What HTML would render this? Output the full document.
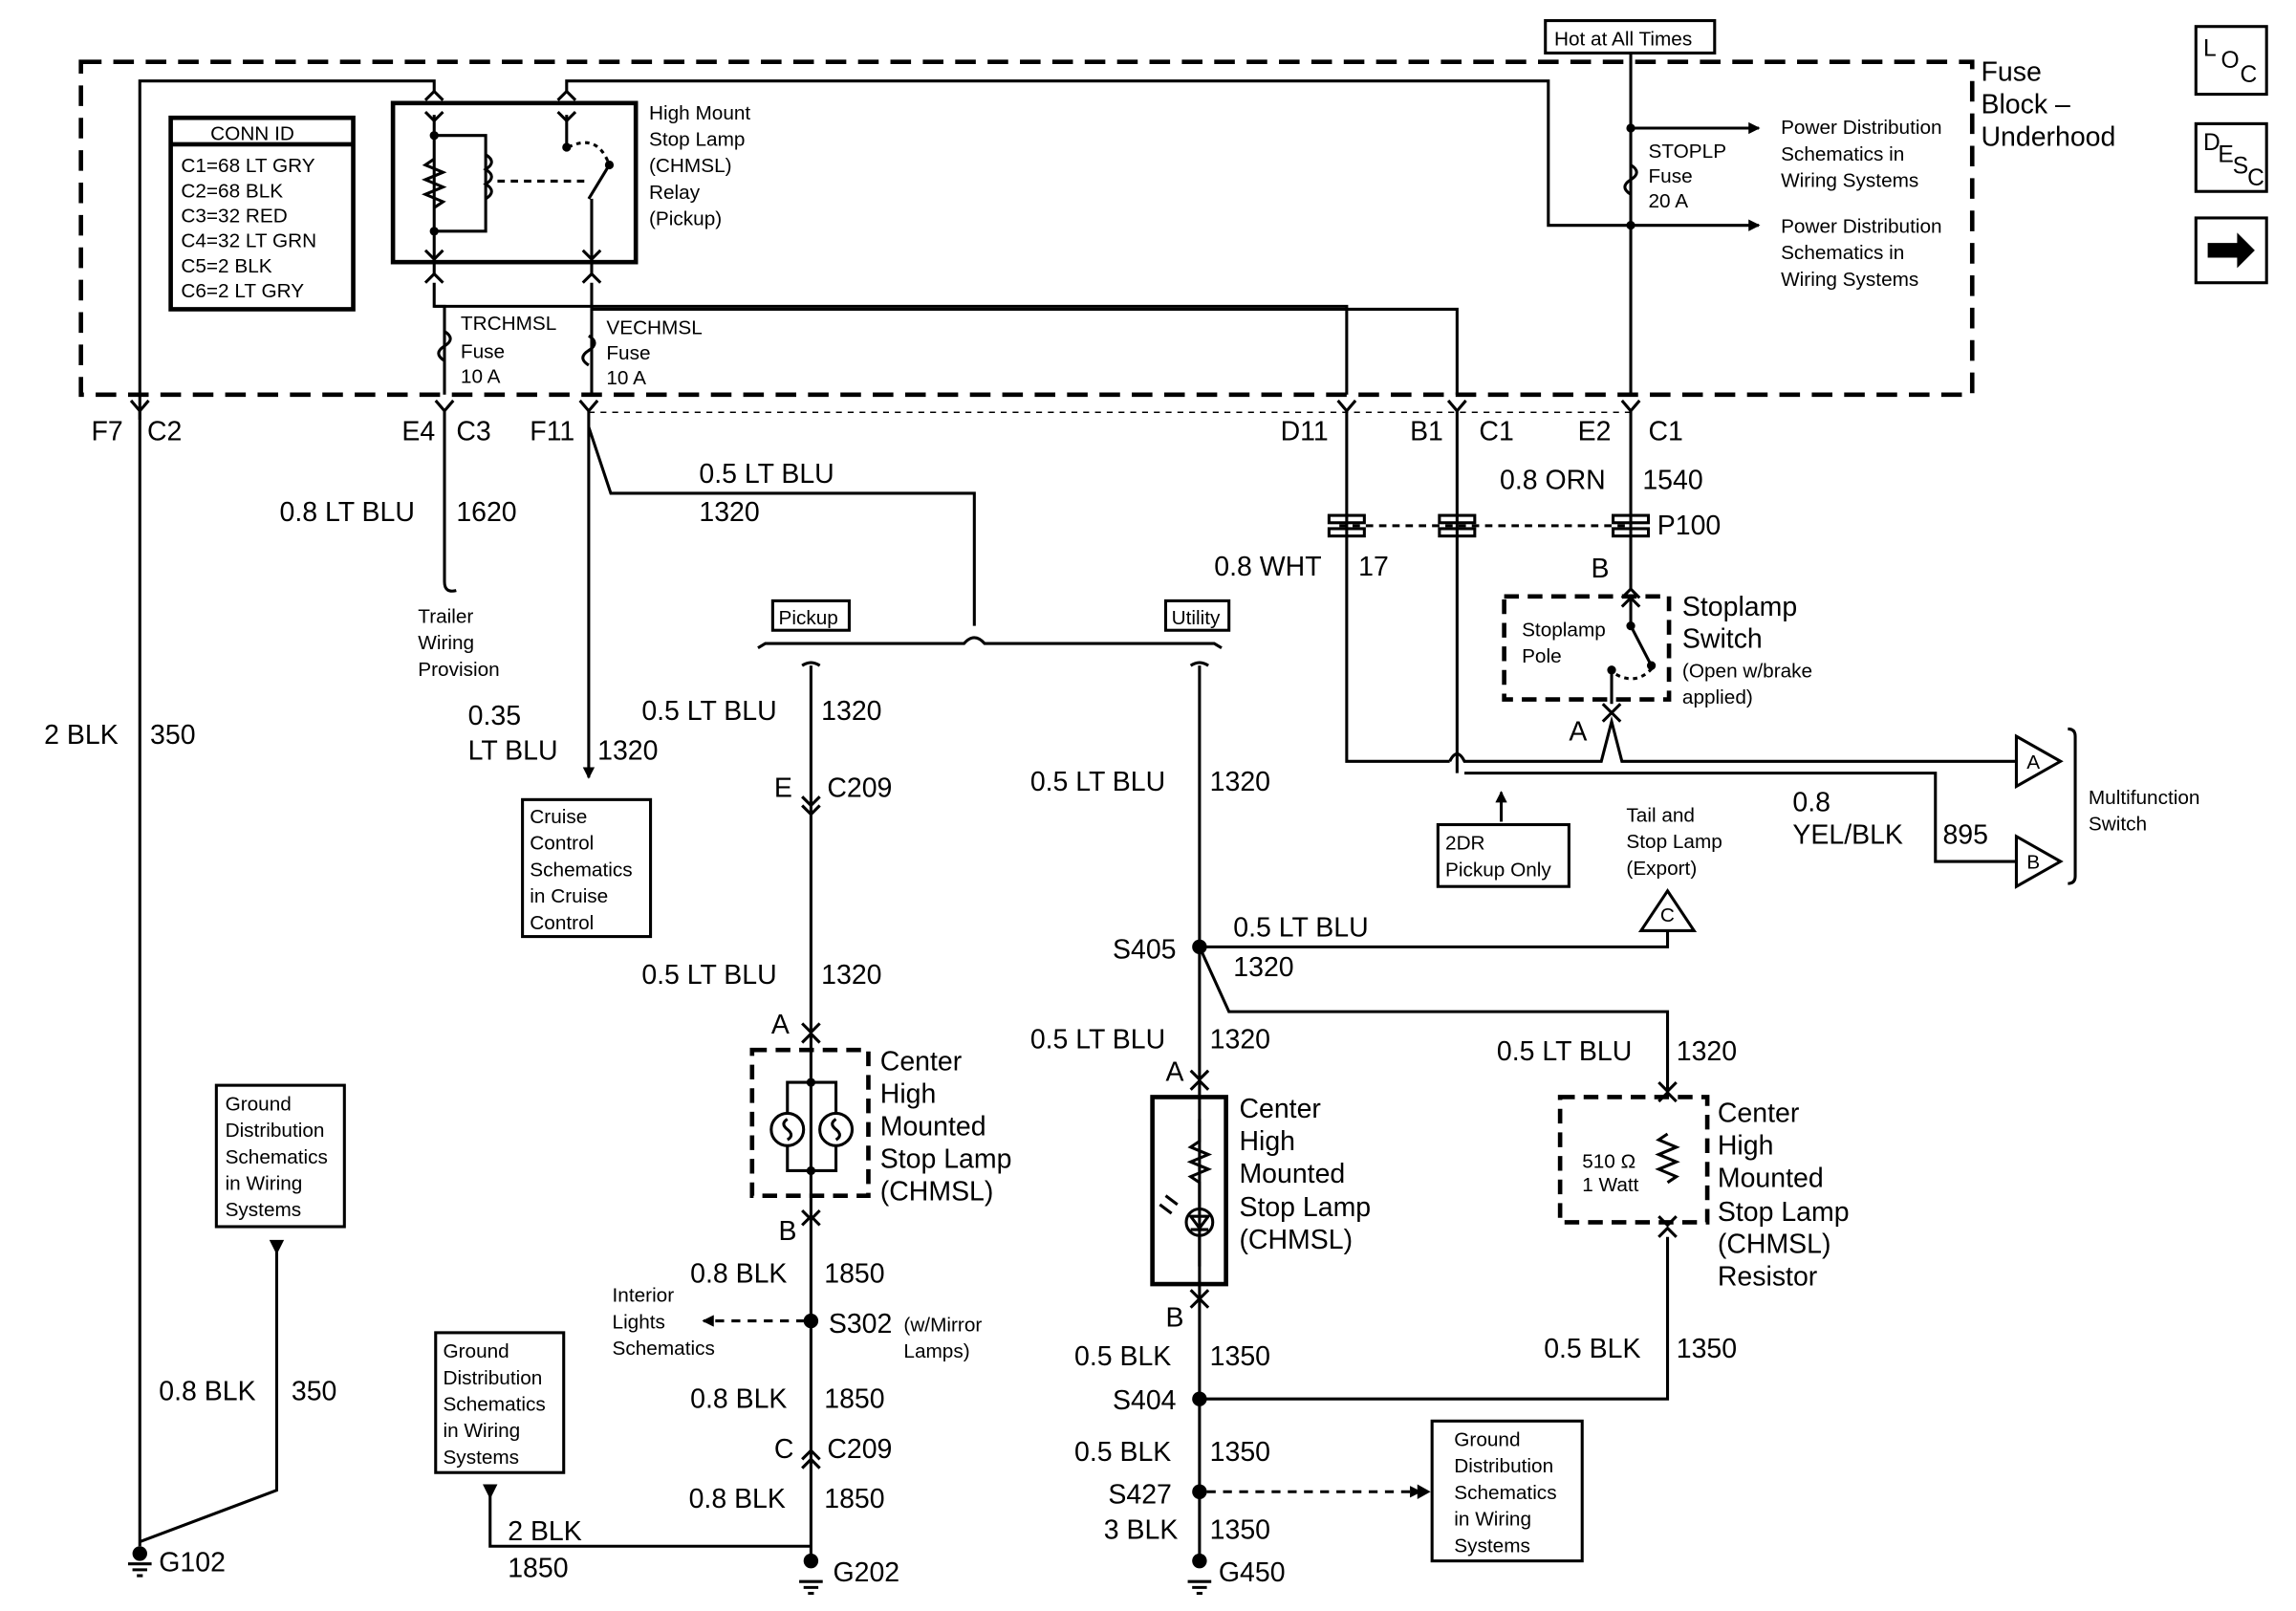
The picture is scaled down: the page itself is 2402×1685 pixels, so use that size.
<!DOCTYPE html>
<html><head><meta charset="utf-8"><style>
html,body{margin:0;padding:0;background:#fff;}
svg{display:block;}
text{font-family:"Liberation Sans",Arial,sans-serif;fill:#000;}
.L{font-size:18.5px;}
.S{font-size:13.5px;}
.M{font-size:16px;}
</style></head><body>
<svg width="2402" height="1685" viewBox="0 0 1560 1094" preserveAspectRatio="none" xmlns="http://www.w3.org/2000/svg">
<defs>
<marker id="ar" markerWidth="8" markerHeight="8" refX="7" refY="4" orient="auto" markerUnits="userSpaceOnUse"><path d="M0,0 L8,4 L0,8z"/></marker>
</defs>
<g fill="none" stroke="#000" stroke-width="2">
<rect x="55" y="42" width="1285" height="226" stroke-width="3" stroke-dasharray="14,8"/>
<rect x="1050" y="14" width="115" height="22"/>
<rect x="1492" y="18" width="48" height="46"/>
<rect x="1492" y="84" width="48" height="46"/>
<rect x="1492" y="148" width="48" height="44"/>
<rect x="116" y="80" width="124" height="130" stroke-width="3"/>
<line x1="116" y1="98" x2="240" y2="98" stroke-width="3"/>
<rect x="267" y="70" width="165" height="108" stroke-width="3"/>
<polyline points="95,285 95,55 295,55 295,62"/>
<polyline points="385,62 385,55 1052,55 1052,153 1195,153" marker-end="url(#ar)"/>
<polyline points="1108,36 1108,268"/>
<polyline points="1108,87 1195,87" marker-end="url(#ar)"/>
<path d="M1108,112 q8,5 0,10 q-8,5 0,10"/>
<!-- relay internals -->
<polyline points="295,78 295,186"/>
<path d="M295,108 l-6,4 l12,5 l-12,5 l12,5 l-12,5 l12,5 l-6,4"/>
<polyline points="295,92 330,92 330,157 295,157"/>
<path d="M330,105 q8,5 0,10 q8,5 0,10 q8,5 0,10"/>
<line x1="338" y1="123" x2="398" y2="123" stroke-dasharray="5,4"/>
<polyline points="385,78 385,100"/>
<line x1="400" y1="135" x2="414" y2="112"/>
<path d="M386,100 q20,-10 28,12" stroke-dasharray="3,3"/>
<polyline points="402,135 402,186"/>
<!-- chevrons relay -->
<path d="M289,68 L295,62 L301,68 M379,68 L385,62 L391,68"/>
<path d="M289,76 L295,82 L301,76 M379,76 L385,82 L391,76"/>
<path d="M289,170 L295,176 L301,170 M396,170 L402,176 L408,170"/>
<path d="M289,192 L295,186 L301,192 M396,192 L402,186 L408,192"/>
<polyline points="295,192 295,208 915,208 915,268"/>
<polyline points="402,192 402,268"/>
<polyline points="295,208 302,208 302,268"/>
<polyline points="402,210 990,210 990,268"/>
<path d="M302,225 q8,5 0,10 q-8,5 0,10"/>
<path d="M400,228 q8,5 0,10 q-8,5 0,10"/>
<!-- bottom pin chevrons -->
<path d="M89,272 L95,279 L101,272 M296,272 L302,279 L308,272 M394,272 L400,279 L406,272 M909,272 L915,279 L921,272 M984,272 L990,279 L996,272 M1102,272 L1108,279 L1114,272"/>
<line x1="400" y1="280" x2="1108" y2="280" stroke-dasharray="4,4" stroke-width="1"/>
<line x1="95" y1="279" x2="95" y2="1050"/>
<path d="M302,279 L302,395 q0,8 8,6"/>
<line x1="400" y1="279" x2="400" y2="528" marker-end="url(#ar)"/>
<polyline points="400,290 415,335 662,335 662,425"/>
<path d="M515,440 l5,-3 L655,437 q7,-8 14,0 L825,437 l5,3"/>
<path d="M545,452 q6,-4 12,0 M809,452 q6,-4 12,0"/>
<line x1="551" y1="452" x2="551" y2="1060"/>
<line x1="815" y1="452" x2="815" y2="1060"/>
<!-- C209 chevrons -->
<path d="M545,541 L551,547 L557,541 M545,547 L551,553 L557,547"/>
<path d="M545,991 L551,985 L557,991 M545,997 L551,991 L557,997"/>
<path d="M545,695 L551,701 L557,695 M545,708 L551,702 L557,708"/>
<path d="M545,822 L551,828 L557,822 M545,832 L551,826 L557,832"/>
<path d="M809,727 L815,733 L821,727 M809,740 L815,734 L821,740"/>
<path d="M809,876 L815,882 L821,876 M809,888 L815,882 L821,888"/>
<path d="M1127,735 L1133,741 L1139,735 M1127,748 L1133,742 L1139,748"/>
<path d="M1127,826 L1133,832 L1139,826 M1127,840 L1133,834 L1139,840"/>
<!-- right side -->
<polyline points="915,279 915,517 985,517"/>
<path d="M985,517 q5,-10 10,0 L1088,517 L1095,490 L1102,517 L1370,517"/>
<polyline points="990,279 990,525"/>
<polyline points="1108,279 1108,400"/>
<path d="M1102,406 L1108,400 L1114,406 M1102,412 L1108,406 L1114,412 M1089,478 L1095,484 L1101,478 M1089,490 L1095,484 L1101,490"/>
<polyline points="995,525 1315,525 1315,585 1370,585"/>
<line x1="910" y1="357" x2="1105" y2="357" stroke-dasharray="5,4"/>
<rect x="903" y="350" width="24" height="5"/><rect x="903" y="359" width="24" height="5"/>
<rect x="978" y="350" width="24" height="5"/><rect x="978" y="359" width="24" height="5"/>
<rect x="1096" y="350" width="24" height="5"/><rect x="1096" y="359" width="24" height="5"/>
<rect x="1022" y="405" width="112" height="70" stroke-width="3" stroke-dasharray="10,6"/>
<line x1="1108" y1="406" x2="1108" y2="425"/>
<line x1="1108" y1="425" x2="1122" y2="452"/>
<line x1="1095" y1="455" x2="1095" y2="478"/>
<path d="M1098,458 q15,8 26,-6" stroke-dasharray="3,3"/>
<polygon points="1370,500 1400,517 1370,534"/>
<polygon points="1370,568 1400,585 1370,602"/>
<path d="M1405,495 q5,0 5,5 L1410,595 q0,5 -5,5"/>
<rect x="977" y="560" width="89" height="42"/>
<line x1="1020" y1="558" x2="1020" y2="538" marker-end="url(#ar)"/>
<rect x="355" y="543" width="87" height="93"/>
<rect x="525" y="408" width="52" height="20"/>
<rect x="792" y="408" width="43" height="20"/>
<polyline points="815,643 1133,643 1133,632"/>
<polygon points="1133,605 1115,632 1151,632"/>
<polyline points="815,643 835,687 1133,687 1133,745"/>
<rect x="1060" y="745" width="100" height="85" stroke-width="3" stroke-dasharray="10,6"/>
<path d="M1133,770 l-6,4 l12,5 l-12,5 l12,5 l-12,5 l12,5 l-6,4"/>
<polyline points="1133,840 1133,950 815,950"/>
<rect x="511" y="713" width="79" height="99" stroke-width="3" stroke-dasharray="10,6"/>
<polyline points="535,756 535,735 568,735 568,756"/>
<polyline points="535,778 535,795 568,795 568,778"/>
<circle cx="535" cy="767" r="11"/><circle cx="568" cy="767" r="11"/>
<path d="M535,760 q-5,3 0,7 q5,4 0,7 M568,760 q-5,3 0,7 q5,4 0,7"/>
<rect x="783" y="745" width="50" height="127" stroke-width="3"/>
<path d="M815,760 L815,775 l-6,4 l12,5 l-12,5 l12,5 l-12,5 l6,4 L815,820 M815,840 L815,860"/>
<circle cx="815" cy="830" r="9"/>
<path d="M809,826 h12 l-6,8z M809,835 h12"/>
<path d="M800,818 l-8,-6 M796,824 l-8,-6"/>
<line x1="547" y1="897" x2="478" y2="897" stroke-dasharray="6,5" marker-end="url(#ar)"/>
<line x1="820" y1="1013" x2="965" y2="1013" stroke-dasharray="6,5" marker-end="url(#ar)"/>
<rect x="973" y="965" width="102" height="95"/>
<rect x="147" y="737" width="87" height="96"/>
<rect x="296" y="905" width="87" height="95"/>
<polyline points="188,850 188,1012 95,1047"/>
<polyline points="333,1015 333,1050 551,1050"/>
<path d="M87,1062 h16 M90,1066 h10 M93,1070 h4"/>
<path d="M543,1074 h16 M546,1078 h10 M549,1082 h4"/>
<path d="M807,1074 h16 M810,1078 h10 M813,1082 h4"/>
</g>
<polygon points="1500,165 1520,165 1520,158 1532,170 1520,182 1520,175 1500,175"/>
<polygon points="183,842 193,842 188,852"/>
<polygon points="328,1008 338,1008 333,1018"/>
<polygon points="963,1008 963,1018 972,1013"/>
<circle cx="95" cy="1055" r="5"/><circle cx="551" cy="1060" r="5"/><circle cx="815" cy="1060" r="5"/>
<circle cx="815" cy="643" r="5"/><circle cx="815" cy="950" r="5"/><circle cx="815" cy="1013" r="5"/><circle cx="551" cy="897" r="5"/>
<circle cx="1108" cy="87" r="3"/><circle cx="1108" cy="153" r="3"/><circle cx="295" cy="92" r="3"/><circle cx="295" cy="157" r="3"/>
<circle cx="1108" cy="425" r="3"/><circle cx="1122" cy="452" r="3"/><circle cx="1095" cy="455" r="3"/>
<circle cx="385" cy="100" r="3"/><circle cx="414" cy="112" r="3"/>
<circle cx="551" cy="735" r="3"/><circle cx="551" cy="795" r="3"/>
<text x="1056" y="31" class="S">Hot at All Times</text>
<text x="1346" y="55" class="L">Fuse</text><text x="1346" y="77" class="L">Block –</text><text x="1346" y="99" class="L">Underhood</text>
<text x="1497" y="38" class="M">L</text><text x="1509" y="46" class="M">O</text><text x="1522" y="56" class="M">C</text>
<text x="1497" y="102" class="M">D</text><text x="1507" y="110" class="M">E</text><text x="1517" y="118" class="M">S</text><text x="1527" y="126" class="M">C</text>
<g class="S">
<text x="143" y="95">CONN ID</text>
<text x="123" y="117">C1=68 LT GRY</text><text x="123" y="134">C2=68 BLK</text><text x="123" y="151">C3=32 RED</text><text x="123" y="168">C4=32 LT GRN</text><text x="123" y="185">C5=2 BLK</text><text x="123" y="202">C6=2 LT GRY</text>
<text x="441" y="81">High Mount</text><text x="441" y="99">Stop Lamp</text><text x="441" y="117">(CHMSL)</text><text x="441" y="135">Relay</text><text x="441" y="153">(Pickup)</text>
<text x="1120" y="107">STOPLP</text><text x="1120" y="124">Fuse</text><text x="1120" y="141">20 A</text>
<text x="1210" y="91">Power Distribution</text><text x="1210" y="109">Schematics in</text><text x="1210" y="127">Wiring Systems</text>
<text x="1210" y="158">Power Distribution</text><text x="1210" y="176">Schematics in</text><text x="1210" y="194">Wiring Systems</text>
<text x="313" y="224">TRCHMSL</text><text x="313" y="243">Fuse</text><text x="313" y="260">10 A</text>
<text x="412" y="227">VECHMSL</text><text x="412" y="244">Fuse</text><text x="412" y="261">10 A</text>
<text x="284" y="423">Trailer</text><text x="284" y="441">Wiring</text><text x="284" y="459">Provision</text>
<text x="360" y="559">Cruise</text><text x="360" y="577">Control</text><text x="360" y="595">Schematics</text><text x="360" y="613">in Cruise</text><text x="360" y="631">Control</text>
<text x="529" y="424">Pickup</text><text x="796" y="424">Utility</text>
<text x="1034" y="432">Stoplamp</text><text x="1034" y="450">Pole</text>
<text x="1143" y="460">(Open w/brake</text><text x="1143" y="478">applied)</text>
<text x="1105" y="558">Tail and</text><text x="1105" y="576">Stop Lamp</text><text x="1105" y="594">(Export)</text>
<text x="1419" y="546">Multifunction</text><text x="1419" y="564">Switch</text>
<text x="982" y="577">2DR</text><text x="982" y="595">Pickup Only</text>
<text x="1377" y="522">A</text><text x="1377" y="590">B</text><text x="1128" y="626">C</text>
<text x="153" y="754">Ground</text><text x="153" y="772">Distribution</text><text x="153" y="790">Schematics</text><text x="153" y="808">in Wiring</text><text x="153" y="826">Systems</text>
<text x="301" y="922">Ground</text><text x="301" y="940">Distribution</text><text x="301" y="958">Schematics</text><text x="301" y="976">in Wiring</text><text x="301" y="994">Systems</text>
<text x="988" y="982">Ground</text><text x="988" y="1000">Distribution</text><text x="988" y="1018">Schematics</text><text x="988" y="1036">in Wiring</text><text x="988" y="1054">Systems</text>
<text x="416" y="884">Interior</text><text x="416" y="902">Lights</text><text x="416" y="920">Schematics</text>
<text x="614" y="904">(w/Mirror</text><text x="614" y="922">Lamps)</text>
<text x="1075" y="793">510 Ω</text><text x="1075" y="809">1 Watt</text>
</g>
<g class="L">
<text x="62" y="299">F7</text><text x="100" y="299">C2</text>
<text x="273" y="299">E4</text><text x="310" y="299">C3</text>
<text x="360" y="299">F11</text>
<text x="870" y="299">D11</text><text x="958" y="299">B1</text><text x="1005" y="299">C1</text>
<text x="1072" y="299">E2</text><text x="1120" y="299">C1</text>
<text x="1019" y="332">0.8 ORN</text><text x="1116" y="332">1540</text>
<text x="1126" y="363">P100</text><text x="1081" y="392">B</text>
<text x="825" y="391">0.8 WHT</text><text x="923" y="391">17</text>
<text x="1143" y="418">Stoplamp</text><text x="1143" y="440">Switch</text>
<text x="1066" y="503">A</text>
<text x="1218" y="551">0.8</text><text x="1218" y="573">YEL/BLK</text><text x="1320" y="573">895</text>
<text x="475" y="328">0.5 LT BLU</text><text x="475" y="354">1320</text>
<text x="190" y="354">0.8 LT BLU</text><text x="310" y="354">1620</text>
<text x="30" y="505">2 BLK</text><text x="102" y="505">350</text>
<text x="318" y="492">0.35</text><text x="318" y="516">LT BLU</text><text x="406" y="516">1320</text>
<text x="436" y="489">0.5 LT BLU</text><text x="558" y="489">1320</text>
<text x="526" y="541">E</text><text x="562" y="541">C209</text>
<text x="700" y="537">0.5 LT BLU</text><text x="822" y="537">1320</text>
<text x="436" y="668">0.5 LT BLU</text><text x="558" y="668">1320</text>
<text x="756" y="651">S405</text><text x="838" y="636">0.5 LT BLU</text><text x="838" y="663">1320</text>
<text x="524" y="702">A</text>
<text x="598" y="727">Center</text><text x="598" y="749">High</text><text x="598" y="771">Mounted</text><text x="598" y="793">Stop Lamp</text><text x="598" y="815">(CHMSL)</text>
<text x="700" y="712">0.5 LT BLU</text><text x="822" y="712">1320</text>
<text x="792" y="734">A</text>
<text x="842" y="759">Center</text><text x="842" y="781">High</text><text x="842" y="803">Mounted</text><text x="842" y="826">Stop Lamp</text><text x="842" y="848">(CHMSL)</text>
<text x="1017" y="720">0.5 LT BLU</text><text x="1139" y="720">1320</text>
<text x="1167" y="762">Center</text><text x="1167" y="784">High</text><text x="1167" y="806">Mounted</text><text x="1167" y="829">Stop Lamp</text><text x="1167" y="851">(CHMSL)</text><text x="1167" y="873">Resistor</text>
<text x="529" y="842">B</text>
<text x="469" y="871">0.8 BLK</text><text x="560" y="871">1850</text>
<text x="563" y="905">S302</text>
<text x="469" y="956">0.8 BLK</text><text x="560" y="956">1850</text>
<text x="526" y="990">C</text><text x="562" y="990">C209</text>
<text x="468" y="1024">0.8 BLK</text><text x="560" y="1024">1850</text>
<text x="345" y="1046">2 BLK</text><text x="345" y="1071">1850</text>
<text x="566" y="1074">G202</text>
<text x="108" y="951">0.8 BLK</text><text x="198" y="951">350</text>
<text x="108" y="1067">G102</text>
<text x="792" y="901">B</text>
<text x="730" y="927">0.5 BLK</text><text x="822" y="927">1350</text>
<text x="756" y="957">S404</text>
<text x="1049" y="922">0.5 BLK</text><text x="1139" y="922">1350</text>
<text x="730" y="992">0.5 BLK</text><text x="822" y="992">1350</text>
<text x="753" y="1021">S427</text>
<text x="750" y="1045">3 BLK</text><text x="822" y="1045">1350</text>
<text x="828" y="1074">G450</text>
</g>
</svg>
</body></html>
